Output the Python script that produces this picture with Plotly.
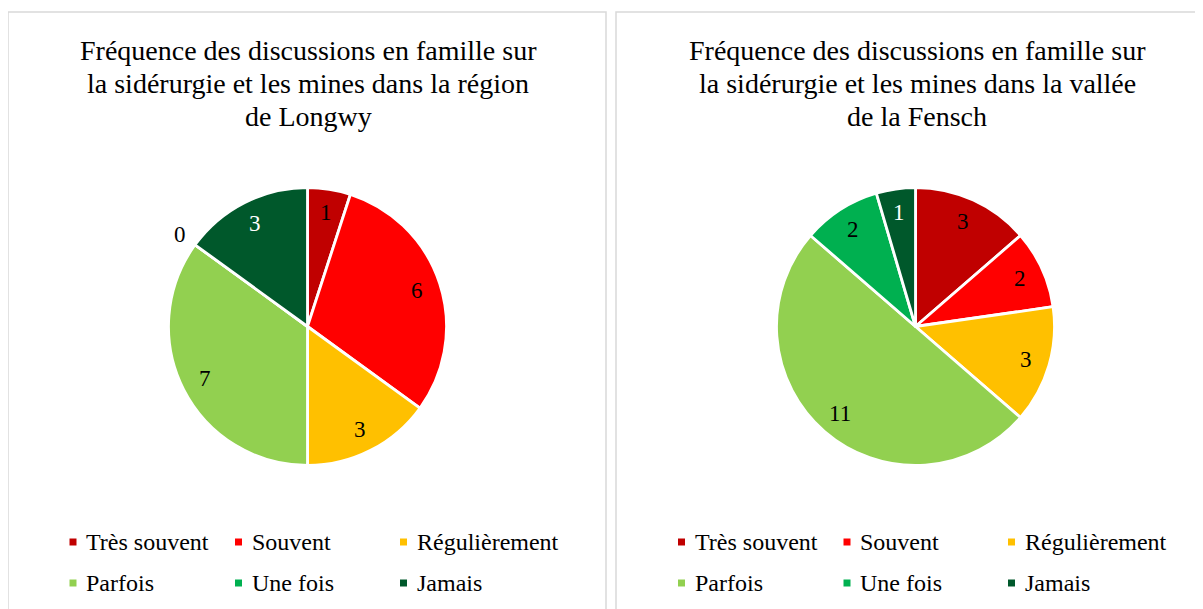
import math
import plotly.graph_objects as go

W, H = 1203, 609
OFF = 8  # the page body adds an 8px margin around the figure
FONT = "Liberation Serif, Times New Roman, serif"
BORDER = "#D9D9D9"

categories = ["Très souvent", "Souvent", "Régulièrement", "Parfois", "Une fois", "Jamais"]
colors = ["#C00000", "#FF0000", "#FFC000", "#92D050", "#00B050", "#00582B"]
label_colors = ["black", "black", "black", "black", "black", "white"]

longwy_values = [1, 6, 3, 7, 0, 3]
fensch_values = [3, 2, 3, 11, 2, 1]

titles = [
    ["Fréquence des discussions en famille sur",
     "la sidérurgie et les mines dans la région",
     "de Longwy"],
    ["Fréquence des discussions en famille sur",
     "la sidérurgie et les mines dans la vallée",
     "de la Fensch"],
]

# layout in screen pixels: pie centre, radius, panel centre, legend columns
panels = [
    dict(values=longwy_values, cx=307.5, cy=326.5, r=139, tx=308,
         box=(8, 606), legx=(73, 238.5, 403.5)),
    dict(values=fensch_values, cx=915.5, cy=326.5, r=139, tx=917,
         box=(616, 1230), legx=(681.5, 847, 1011.5)),
]
TITLE_Y = (50, 83.5, 116.5)
LEG_Y = (542, 583)


def px(x):
    return (x - OFF) / W


def py(y):
    return 1 - (y - OFF) / H


fig = go.Figure()
annotations = []
shapes = []

for i, p in enumerate(panels):
    cx, cy, r = p["cx"], p["cy"], p["r"]
    fig.add_trace(go.Pie(
        labels=categories, values=p["values"],
        marker=dict(colors=colors, line=dict(color="white", width=2.8)),
        sort=False, direction="clockwise", rotation=0,
        textinfo="none", hoverinfo="label+value", showlegend=False,
        domain=dict(x=[px(cx - r), px(cx + r)], y=[py(cy + r), py(cy - r)]),
    ))

    # data labels placed along each slice's mid angle
    total = sum(p["values"])
    cum = 0
    for v, tc in zip(p["values"], label_colors):
        mid = (cum + v / 2) / total * 2 * math.pi
        cum += v
        f = 1.13 if v == 0 else 0.83
        lx = cx + f * r * math.sin(mid)
        ly = cy - f * r * math.cos(mid)
        annotations.append(dict(
            x=px(lx), y=py(ly), xref="paper", yref="paper", text=str(v),
            showarrow=False, xanchor="center", yanchor="middle",
            font=dict(family=FONT, size=23, color=tc if v else "black"),
        ))

    # title
    for line, y in zip(titles[i], TITLE_Y):
        annotations.append(dict(
            x=px(p["tx"]), y=py(y), xref="paper", yref="paper", text=line,
            showarrow=False, xanchor="center", yanchor="middle",
            font=dict(family=FONT, size=28, color="#000000"),
        ))

    # panel border
    x0, x1 = p["box"]
    shapes.append(dict(type="rect", xref="paper", yref="paper",
                       x0=px(x0), x1=px(x1), y0=py(660), y1=py(12),
                       line=dict(color=BORDER, width=1.5)))

    # legend
    for k, (name, col) in enumerate(zip(categories, colors)):
        lx = p["legx"][k % 3]
        ly = LEG_Y[k // 3]
        shapes.append(dict(type="rect", xref="paper", yref="paper",
                           x0=px(lx - 3.5), x1=px(lx + 3.5),
                           y0=py(ly + 3.5), y1=py(ly - 3.5),
                           fillcolor=col, line=dict(width=0)))
        annotations.append(dict(
            x=px(lx + 11), y=py(ly), xref="paper", yref="paper", text=name,
            showarrow=False, xanchor="left", yanchor="middle",
            font=dict(family=FONT, size=24, color="#000000"),
        ))

fig.update_layout(
    width=W, height=H,
    margin=dict(l=0, r=0, t=0, b=0),
    paper_bgcolor="white",
    plot_bgcolor="white",
    annotations=annotations,
    shapes=shapes,
)

fig.write_html("out.html")
